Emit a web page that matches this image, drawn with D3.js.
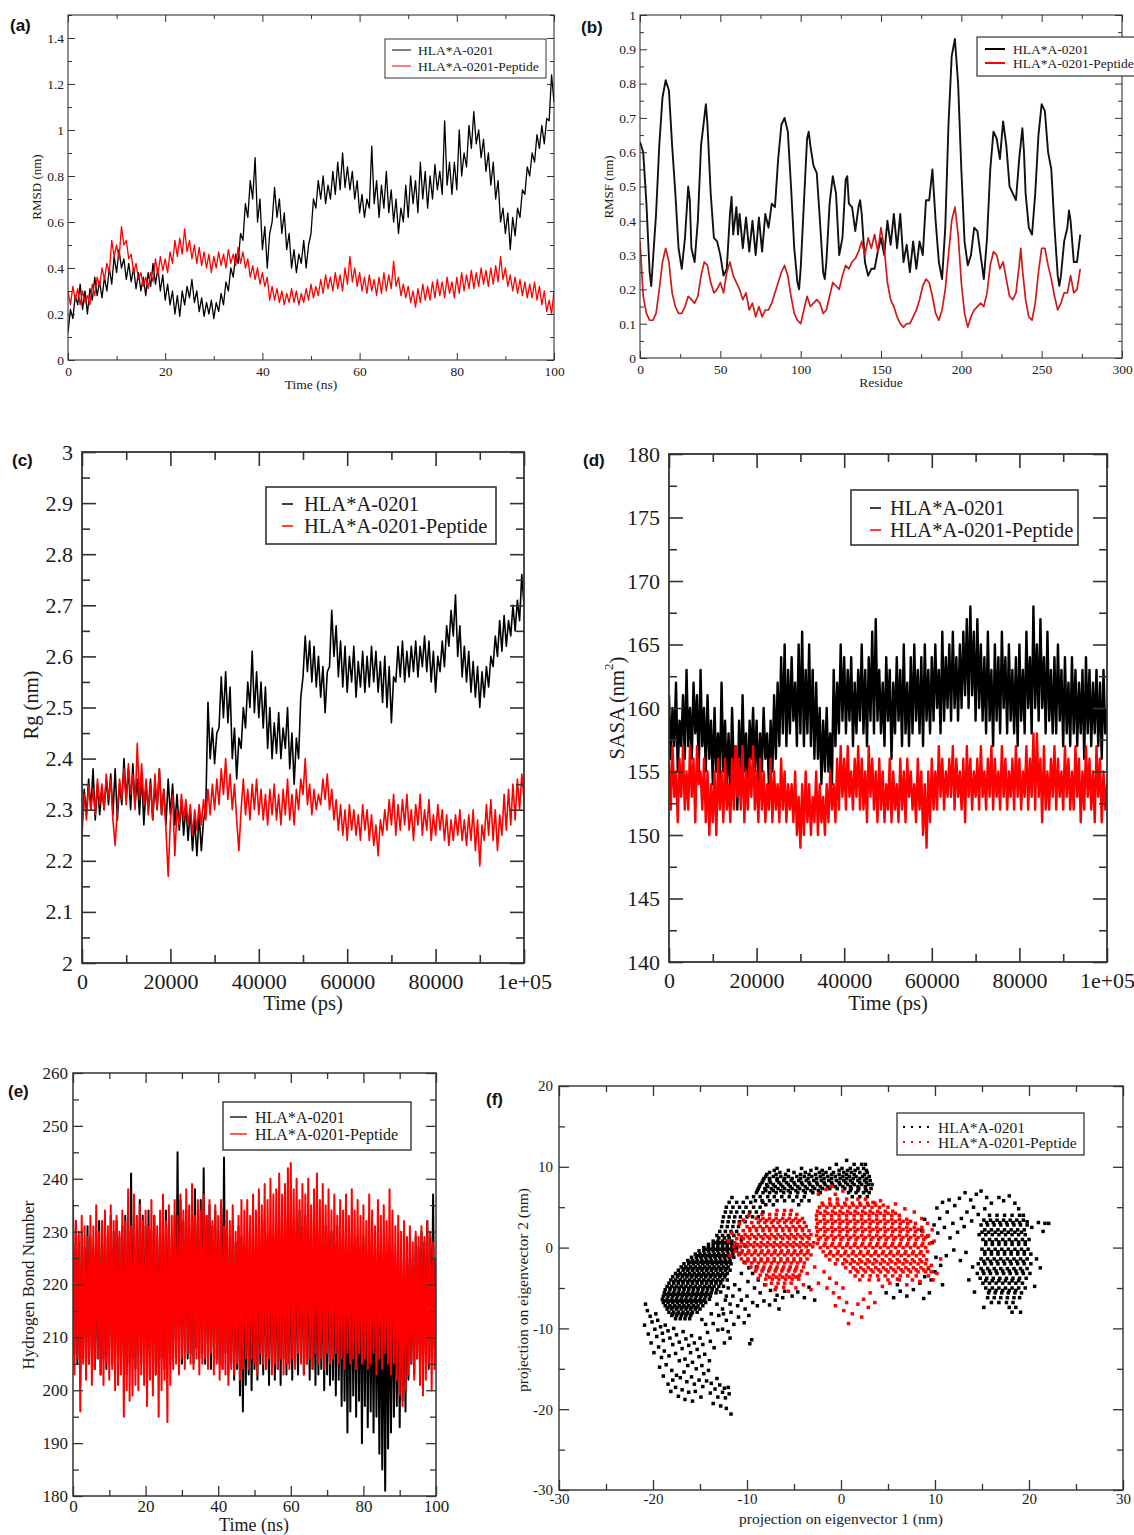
<!DOCTYPE html>
<html>
<head>
<meta charset="utf-8">
<script src="https://cdn.jsdelivr.net/npm/d3@7"></script>
<style>
  html, body { margin: 0; padding: 0; background: #fff; }
  svg { display: block; }
</style>
</head>
<body>
<svg id="figure" width="1134" height="1535"></svg>
<script>
const legendLabels = ["HLA*A-0201", "HLA*A-0201-Peptide"];
const apoColor = "#000000";
const complexColor = "#ff0000";

// (a) RMSD, one stored sample every 0.5 ns
const rmsdStep = 0.5;
const rmsdApo = [
  0.12,0.22,0.18,0.28,0.24,0.33,0.22,0.30,0.20,0.31,
  0.26,0.36,0.28,0.34,0.27,0.36,0.30,0.40,0.33,0.45,
  0.38,0.48,0.40,0.44,0.35,0.42,0.34,0.40,0.31,0.38,
  0.30,0.36,0.28,0.38,0.32,0.42,0.33,0.40,0.30,0.37,
  0.26,0.33,0.24,0.30,0.20,0.28,0.19,0.30,0.24,0.32,
  0.27,0.35,0.25,0.30,0.21,0.27,0.19,0.25,0.20,0.26,
  0.18,0.25,0.21,0.29,0.24,0.34,0.30,0.40,0.36,0.46,
  0.42,0.55,0.52,0.68,0.62,0.78,0.70,0.88,0.60,0.70,
  0.48,0.58,0.40,0.55,0.60,0.75,0.62,0.70,0.55,0.64,
  0.48,0.55,0.40,0.48,0.38,0.46,0.42,0.52,0.40,0.50,
  0.55,0.70,0.66,0.78,0.70,0.80,0.68,0.76,0.70,0.82,
  0.72,0.86,0.74,0.90,0.75,0.84,0.74,0.82,0.70,0.78,
  0.64,0.72,0.62,0.70,0.66,0.93,0.68,0.78,0.62,0.76,
  0.66,0.82,0.64,0.74,0.60,0.70,0.55,0.66,0.60,0.76,
  0.62,0.80,0.68,0.78,0.64,0.86,0.70,0.82,0.66,0.80,
  0.70,0.85,0.74,0.82,0.72,1.04,0.76,0.86,0.72,0.86,
  0.74,1.00,0.80,0.90,0.84,1.02,0.92,1.08,0.94,1.00,
  0.88,0.96,0.82,0.90,0.76,0.86,0.70,0.78,0.60,0.66,
  0.55,0.64,0.48,0.62,0.54,0.66,0.62,0.74,0.72,0.84,
  0.80,0.90,0.86,0.98,0.92,1.02,0.94,1.05,1.04,1.24,
  1.12
];
const rmsdComplex = [
  0.30,0.24,0.32,0.26,0.31,0.24,0.30,0.25,0.28,0.24,
  0.33,0.28,0.36,0.32,0.40,0.35,0.42,0.38,0.52,0.45,
  0.50,0.44,0.58,0.50,0.52,0.44,0.46,0.38,0.42,0.35,
  0.38,0.32,0.36,0.31,0.38,0.34,0.44,0.37,0.45,0.39,
  0.44,0.38,0.47,0.42,0.52,0.45,0.53,0.46,0.57,0.47,
  0.52,0.44,0.50,0.42,0.49,0.41,0.47,0.40,0.46,0.38,
  0.45,0.40,0.47,0.41,0.46,0.40,0.48,0.42,0.46,0.41,
  0.49,0.42,0.47,0.40,0.44,0.36,0.41,0.35,0.40,0.33,
  0.38,0.32,0.36,0.26,0.32,0.26,0.31,0.25,0.30,0.24,
  0.29,0.25,0.31,0.25,0.30,0.24,0.29,0.25,0.31,0.26,
  0.33,0.27,0.32,0.28,0.35,0.29,0.37,0.31,0.36,0.30,
  0.38,0.31,0.37,0.30,0.40,0.33,0.45,0.34,0.40,0.32,
  0.38,0.30,0.36,0.29,0.37,0.30,0.35,0.28,0.36,0.29,
  0.38,0.30,0.37,0.31,0.43,0.32,0.36,0.28,0.33,0.27,
  0.32,0.25,0.30,0.23,0.31,0.25,0.33,0.26,0.32,0.26,
  0.34,0.27,0.35,0.28,0.34,0.27,0.36,0.29,0.34,0.27,
  0.36,0.29,0.38,0.30,0.37,0.31,0.39,0.31,0.38,0.32,
  0.40,0.33,0.39,0.32,0.40,0.33,0.41,0.34,0.45,0.35,
  0.40,0.32,0.37,0.30,0.36,0.29,0.35,0.28,0.34,0.27,
  0.33,0.27,0.34,0.26,0.32,0.24,0.30,0.21,0.26,0.20,
  0.30
];
const rmsdXTicks = [0, 20, 40, 60, 80, 100];
const rmsdXMinor = [10, 30, 50, 70, 90];
const rmsdYTicks = [0, 0.2, 0.4, 0.6, 0.8, 1, 1.2, 1.4];
const rmsdYMinor = [0.1, 0.3, 0.5, 0.7, 0.9, 1.1, 1.3, 1.5];

// (b) RMSF per residue, [residue, nm]
const rmsfApo = [
  [0,.63],[2,.60],[4,.45],[6,.25],[7,.21],[8,.28],[10,.42],[12,.62],[14,.76],[16,.81],[18,.78],[20,.62],
  [22,.48],[24,.32],[26,.26],[28,.35],[30,.50],[31,.46],[32,.32],[34,.28],[36,.40],[38,.62],[40,.70],
  [41,.74],[42,.68],[44,.48],[46,.35],[48,.34],[50,.30],[52,.24],[54,.26],[56,.42],[57,.47],[58,.36],
  [60,.44],[61,.36],[62,.42],[64,.32],[66,.41],[68,.31],[70,.40],[72,.30],[74,.41],[76,.31],[78,.42],
  [80,.38],[82,.45],[84,.44],[86,.58],[88,.68],[90,.70],[92,.66],[94,.50],[96,.32],[98,.22],[99,.20],
  [100,.26],[102,.45],[104,.64],[105,.66],[106,.62],[108,.56],[110,.54],[112,.40],[114,.25],[115,.23],
  [116,.28],[118,.45],[120,.53],[122,.48],[124,.30],[126,.35],[128,.52],[129,.53],[130,.45],[132,.44],
  [134,.37],[136,.44],[137,.46],[138,.42],[140,.28],[142,.24],[144,.26],[146,.26],[148,.31],[150,.35],
  [152,.30],[154,.40],[156,.33],[158,.42],[160,.32],[162,.42],[164,.28],[166,.33],[168,.25],[170,.34],
  [172,.26],[174,.34],[176,.30],[178,.46],[180,.46],[182,.55],[184,.40],[186,.28],[188,.23],[190,.38],
  [192,.68],[194,.88],[196,.93],[198,.80],[200,.55],[202,.34],[204,.27],[206,.30],[208,.38],[210,.37],
  [212,.30],[214,.23],[216,.35],[218,.55],[220,.66],[222,.64],[224,.58],[226,.69],[228,.62],[230,.50],
  [232,.48],[234,.46],[236,.58],[238,.67],[239,.60],[240,.48],[242,.38],[244,.36],[246,.48],[248,.65],
  [250,.74],[252,.72],[254,.60],[256,.55],[258,.38],[260,.24],[261,.21],[262,.24],[264,.34],[266,.38],
  [267,.43],[268,.40],[270,.28],[272,.28],[274,.36]
];
const rmsfComplex = [
  [0,.34],[2,.18],[4,.13],[6,.11],[8,.11],[10,.13],[12,.20],[14,.28],[16,.32],[18,.28],[20,.19],
  [22,.15],[24,.13],[26,.13],[28,.15],[30,.18],[32,.17],[34,.16],[36,.18],[38,.24],[40,.28],[42,.27],
  [44,.22],[46,.19],[48,.20],[50,.22],[52,.19],[54,.25],[56,.28],[58,.24],[60,.22],[62,.20],[64,.17],
  [66,.19],[68,.14],[70,.16],[72,.12],[74,.15],[76,.12],[78,.14],[80,.14],[82,.16],[84,.19],[86,.22],
  [88,.25],[90,.27],[92,.24],[94,.18],[96,.13],[98,.11],[100,.10],[102,.14],[104,.18],[106,.15],
  [108,.16],[110,.17],[112,.16],[114,.13],[116,.14],[118,.18],[120,.22],[122,.21],[124,.20],[126,.24],
  [128,.27],[130,.26],[132,.28],[134,.29],[136,.31],[138,.34],[140,.30],[142,.35],[144,.32],[146,.36],
  [148,.31],[150,.38],[152,.32],[154,.22],[156,.17],[158,.15],[160,.12],[162,.10],[164,.09],[166,.10],
  [168,.10],[170,.12],[172,.14],[174,.17],[176,.21],[178,.23],[180,.22],[182,.18],[184,.13],[186,.11],
  [188,.14],[190,.20],[192,.30],[194,.40],[196,.44],[198,.36],[200,.22],[202,.13],[204,.09],[206,.12],
  [208,.14],[210,.15],[212,.16],[214,.15],[216,.19],[218,.27],[220,.31],[222,.30],[224,.26],[226,.28],
  [228,.23],[230,.18],[232,.17],[234,.19],[236,.27],[237,.32],[238,.26],[240,.17],[242,.12],[244,.11],
  [246,.16],[248,.25],[250,.32],[252,.32],[254,.27],[256,.23],[258,.18],[260,.14],[262,.16],[264,.19],
  [266,.19],[268,.24],[270,.19],[272,.20],[274,.26]
];
const rmsfXTicks = [0, 50, 100, 150, 200, 250, 300];
const rmsfXMinor = [25, 75, 125, 175, 225, 275];
const rmsfYTicks = [0, 0.1, 0.2, 0.3, 0.4, 0.5, 0.6, 0.7, 0.8, 0.9, 1];
const rmsfYMinor = [0.05, 0.15, 0.25, 0.35, 0.45, 0.55, 0.65, 0.75, 0.85, 0.95];

// (c) Rg, one stored sample every 500 ps
const rgStep = 500;
const rgApo = [
  2.27,2.34,2.29,2.36,2.30,2.38,2.28,2.35,2.29,2.34,
  2.30,2.36,2.31,2.37,2.29,2.38,2.28,2.35,2.31,2.40,
  2.32,2.38,2.30,2.39,2.31,2.36,2.29,2.37,2.27,2.35,
  2.30,2.36,2.28,2.35,2.30,2.38,2.29,2.34,2.27,2.36,
  2.29,2.35,2.27,2.33,2.26,2.32,2.25,2.31,2.24,2.30,
  2.22,2.28,2.21,2.29,2.22,2.28,2.30,2.51,2.40,2.46,
  2.39,2.45,2.46,2.56,2.48,2.57,2.47,2.54,2.40,2.46,
  2.36,2.44,2.42,2.50,2.46,2.55,2.50,2.61,2.49,2.57,
  2.48,2.55,2.46,2.54,2.42,2.50,2.40,2.47,2.41,2.49,
  2.40,2.46,2.42,2.50,2.38,2.45,2.35,2.44,2.40,2.52,
  2.56,2.64,2.57,2.63,2.55,2.62,2.54,2.60,2.52,2.58,
  2.49,2.57,2.58,2.69,2.60,2.66,2.56,2.63,2.54,2.62,
  2.53,2.60,2.55,2.62,2.52,2.59,2.54,2.61,2.53,2.60,
  2.54,2.62,2.55,2.61,2.53,2.59,2.51,2.60,2.50,2.58,
  2.47,2.56,2.55,2.62,2.56,2.63,2.55,2.61,2.56,2.62,
  2.57,2.63,2.56,2.62,2.58,2.64,2.57,2.63,2.55,2.61,
  2.53,2.60,2.57,2.63,2.58,2.66,2.62,2.69,2.64,2.72,
  2.60,2.66,2.56,2.62,2.55,2.61,2.53,2.59,2.52,2.58,
  2.50,2.57,2.52,2.58,2.54,2.60,2.58,2.64,2.60,2.67,
  2.61,2.68,2.62,2.67,2.64,2.70,2.65,2.71,2.67,2.76,
  2.70
];
const rgComplex = [
  2.25,2.33,2.28,2.35,2.30,2.34,2.29,2.36,2.31,2.35,
  2.30,2.37,2.32,2.36,2.28,2.23,2.30,2.36,2.32,2.38,
  2.31,2.39,2.33,2.37,2.30,2.43,2.32,2.39,2.31,2.36,
  2.29,2.35,2.28,2.37,2.30,2.38,2.29,2.34,2.26,2.17,
  2.28,2.33,2.21,2.30,2.27,2.33,2.28,2.32,2.27,2.31,
  2.25,2.30,2.26,2.31,2.27,2.32,2.28,2.34,2.29,2.35,
  2.30,2.36,2.31,2.38,2.33,2.40,2.32,2.37,2.30,2.35,
  2.28,2.22,2.30,2.36,2.29,2.34,2.28,2.35,2.30,2.36,
  2.29,2.34,2.28,2.33,2.27,2.34,2.29,2.35,2.28,2.33,
  2.27,2.34,2.29,2.36,2.28,2.33,2.27,2.34,2.30,2.36,
  2.33,2.40,2.31,2.35,2.29,2.34,2.30,2.33,2.31,2.36,
  2.32,2.37,2.30,2.34,2.28,2.32,2.26,2.31,2.25,2.30,
  2.24,2.31,2.26,2.30,2.25,2.29,2.24,2.31,2.26,2.30,
  2.24,2.29,2.23,2.27,2.21,2.28,2.25,2.30,2.26,2.32,
  2.27,2.33,2.25,2.31,2.26,2.32,2.27,2.33,2.26,2.30,
  2.24,2.31,2.27,2.33,2.25,2.30,2.26,2.32,2.24,2.29,
  2.25,2.31,2.26,2.30,2.24,2.29,2.23,2.28,2.24,2.29,
  2.25,2.30,2.24,2.28,2.23,2.29,2.24,2.30,2.22,2.28,
  2.19,2.27,2.24,2.31,2.25,2.32,2.24,2.30,2.22,2.29,
  2.25,2.33,2.26,2.34,2.27,2.35,2.28,2.36,2.30,2.37,
  2.32
];
const psXTicks = [0, 20000, 40000, 60000, 80000, 100000];
const psXLabels = ["0", "20000", "40000", "60000", "80000", "1e+05"];
const psXMinor = [10000, 30000, 50000, 70000, 90000];
const rgYTicks = [2, 2.1, 2.2, 2.3, 2.4, 2.5, 2.6, 2.7, 2.8, 2.9, 3];
const rgYMinor = [2.05, 2.15, 2.25, 2.35, 2.45, 2.55, 2.65, 2.75, 2.85, 2.95];

// (d) SASA, one stored sample every 400 ps
const sasaStep = 400;
const sasaApo = [
  161,156,160,157,162,155,159,157,161,156, 163,157,160,156,162,158,161,155,163,157,
  160,155,161,156,159,154,160,155,158,154, 162,155,159,154,158,153,160,155,157,152,
  159,154,161,155,158,153,159,156,160,155, 159,154,158,155,160,156,158,154,159,155,
  161,156,162,157,164,158,165,157,163,158, 164,159,162,157,165,158,166,157,163,158,
  165,157,163,156,162,156,160,154,159,155, 160,155,158,154,163,157,162,158,165,159,
  164,158,163,159,164,157,162,158,163,159, 165,158,163,157,164,159,166,158,167,159,
  163,158,162,157,164,159,163,156,162,158, 164,159,163,157,165,158,162,157,164,158,
  165,159,163,158,164,157,165,159,163,158, 164,159,165,160,163,158,166,159,164,160,
  165,159,166,160,164,159,165,160,166,161, 167,160,168,161,166,159,167,160,165,159,
  164,158,166,159,163,157,165,159,164,158, 166,160,164,158,165,159,163,158,164,157,
  165,159,163,158,166,160,164,158,168,160, 165,159,167,160,164,158,166,159,163,158,
  164,158,165,159,163,157,164,158,162,157, 164,158,163,157,162,158,163,156,164,158,
  163,157,162,158,163,157,162,156,163,158,
  160
];
const sasaComplex = [
  156,152,157,153,155,151,156,153,157,152, 155,152,157,153,156,151,157,154,155,152,
  156,151,155,150,154,151,155,150,156,152, 155,151,156,152,154,151,156,152,157,153,
  156,152,157,151,155,152,156,153,157,152, 155,151,156,152,155,151,154,152,156,151,
  155,152,154,151,156,152,155,151,154,152, 154,151,155,150,153,149,154,150,155,151,
  154,150,153,151,155,150,154,151,153,150, 154,151,155,152,154,151,156,152,157,153,
  156,152,157,153,155,152,156,153,157,152, 156,152,155,151,157,153,156,152,155,151,
  156,152,155,151,154,152,156,151,155,152, 154,151,156,152,155,151,156,153,155,152,
  154,151,156,152,155,150,154,149,155,151, 156,152,155,152,157,153,156,152,155,153,
  156,153,157,152,156,153,155,152,156,151, 157,153,156,152,155,153,156,152,157,153,
  155,152,156,153,157,152,156,153,155,152, 157,153,156,152,155,153,156,152,157,153,
  156,152,155,153,157,152,156,153,158,152, 158,153,156,151,157,152,155,152,156,153,
  157,152,156,153,155,152,157,153,156,152, 155,152,157,153,156,151,155,152,157,153,
  156,152,155,151,157,153,156,151,155,152,
  154
];
const sasaYTicks = [140, 145, 150, 155, 160, 165, 170, 175, 180];
const sasaYMinor = [142.5, 147.5, 152.5, 157.5, 162.5, 167.5, 172.5, 177.5];

// (e) hydrogen bonds, one stored sample every 0.4 ns
const hbondStep = 0.4;
const hbondApo = [
  229,207,232,205,228,201,230,206,227,208, 231,205,229,207,227,204,230,206,232,203,
  228,206,231,204,229,208,233,205,230,207, 232,206,229,204,231,207,233,203,230,205,
  241,206,232,204,230,207,236,205,233,208, 231,206,234,204,230,207,233,203,229,205,
  232,206,230,204,234,207,231,205,229,206, 233,207,245,209,236,205,232,208,234,206,
  231,207,235,205,238,208,232,206,236,207, 242,205,233,207,235,204,231,208,234,206,
  230,205,235,204,244,207,231,203,229,205, 232,202,228,204,231,199,229,196,227,201,
  230,203,226,200,229,204,227,202,231,205, 228,203,232,204,229,201,230,205,228,202,
  231,204,229,201,232,206,230,203,233,205, 229,202,232,205,230,203,234,206,231,203,
  233,205,230,202,232,204,229,201,231,203, 230,204,228,200,231,203,229,201,230,202,
  228,199,231,202,229,197,230,198,228,192, 227,196,230,199,226,195,229,198,227,190,
  229,197,226,193,228,196,225,192,227,195, 224,188,226,185,223,181,225,189,222,192,
  226,195,224,197,227,193,225,198,223,196, 226,202,228,205,225,203,229,206,227,204,
  230,205,228,207,232,204,229,206,237,208,
  222
];
const hbondComplex = [
  236,203,232,206,230,196,233,205,231,202, 229,205,233,201,231,204,235,206,230,203,
  232,201,234,205,231,202,235,204,232,200, 233,201,230,203,234,195,232,200,238,198,
  231,199,237,201,233,200,235,203,232,201, 234,197,231,202,236,199,233,203,231,195,
  234,200,237,202,232,194,235,201,233,204, 236,205,233,203,237,206,234,204,238,207,
  235,205,239,204,233,206,236,203,234,205, 237,206,233,204,236,207,232,203,235,205,
  233,202,236,204,231,203,234,201,232,204, 235,203,230,205,233,202,236,204,234,206,
  236,204,233,206,237,205,234,203,238,207, 235,205,239,204,236,206,240,203,237,205,
  238,204,241,206,237,203,239,205,242,204, 243,206,238,204,240,207,236,205,239,203,
  237,205,240,206,235,204,238,207,241,205, 236,206,239,204,235,207,238,205,234,206,
  237,207,233,205,236,206,234,204,237,207, 233,205,238,206,234,204,236,207,233,205,
  235,206,232,204,237,205,234,207,231,203, 236,206,233,204,235,207,232,205,238,203,
  234,205,231,202,233,199,230,197,232,200, 229,203,231,205,228,202,230,206,229,201,
  231,199,229,202,232,205,230,200,228,204,
  225
];
const nsXTicks = [0, 20, 40, 60, 80, 100];
const nsXMinor = [10, 30, 50, 70, 90];
const hbondYTicks = [180, 190, 200, 210, 220, 230, 240, 250, 260];
const hbondYMinor = [185, 195, 205, 215, 225, 235, 245, 255];

// (f) PCA projections: dense rows [ev2, [ev1 ...]] plus loose [ev1, ev2] points
const pcaApoRows = [
  [1.2,[-13.0,-12.4,-11.9]],
  [0.8,[-13.6,-13.1,-12.6,-12.1,-11.6]],
  [0.6,[-13.4,-12.9,-12.4,-11.9,-11.4]],
  [0.4,[-14.1,-13.6,-13.1,-12.6,-12.1,-11.6,-11.1]],
  [0.0,[-14.6,-14.1,-13.6,-13.1,-12.6,-12.1,-11.6,-11.1]],
  [-0.2,[-14.4,-13.9,-13.4,-12.9,-12.4,-11.9,-11.4]],
  [-0.4,[-15.1,-14.6,-14.1,-13.6,-13.1,-12.6,-12.1,-11.6,-11.1]],
  [-0.8,[-15.5,-15.0,-14.5,-14.0,-13.5,-13.0,-12.5,-12.0,-11.5]],
  [-1.0,[-15.2,-14.7,-14.2,-13.7,-13.2,-12.7,-12.2,-11.7]],
  [-1.2,[-15.9,-15.4,-14.9,-14.4,-13.9,-13.4,-12.9,-12.4,-11.9,-11.4]],
  [-1.6,[-16.3,-15.8,-15.3,-14.8,-14.3,-13.8,-13.3,-12.8,-12.3,-11.8]],
  [-1.8,[-16.0,-15.5,-15.0,-14.5,-14.0,-13.5,-13.0,-12.5,-12.0]],
  [-2.0,[-16.7,-16.2,-15.7,-15.2,-14.7,-14.2,-13.7,-13.2,-12.7,-12.2,-11.7]],
  [-2.4,[-17.0,-16.5,-16.0,-15.5,-15.0,-14.5,-14.0,-13.5,-13.0,-12.5,-12.0]],
  [-2.6,[-16.7,-16.2,-15.7,-15.2,-14.7,-14.2,-13.7,-13.2,-12.7,-12.2]],
  [-2.8,[-17.3,-16.8,-16.3,-15.8,-15.3,-14.8,-14.3,-13.8,-13.3,-12.8,-12.3,-11.8]],
  [-3.2,[-17.6,-17.1,-16.6,-16.1,-15.6,-15.1,-14.6,-14.1,-13.6,-13.1,-12.6,-12.1]],
  [-3.4,[-17.3,-16.8,-16.3,-15.8,-15.3,-14.8,-14.3,-13.8,-13.3,-12.8,-12.3]],
  [-3.6,[-17.9,-17.4,-16.9,-16.4,-15.9,-15.4,-14.9,-14.4,-13.9,-13.4,-12.9,-12.4]],
  [-4.0,[-18.1,-17.6,-17.1,-16.6,-16.1,-15.6,-15.1,-14.6,-14.1,-13.6,-13.1,-12.6,-12.1]],
  [-4.2,[-17.8,-17.3,-16.8,-16.3,-15.8,-15.3,-14.8,-14.3,-13.8,-13.3,-12.8]],
  [-4.4,[-18.3,-17.8,-17.3,-16.8,-16.3,-15.8,-15.3,-14.8,-14.3,-13.8,-13.3,-12.8]],
  [-4.8,[-18.5,-18.0,-17.5,-17.0,-16.5,-16.0,-15.5,-15.0,-14.5,-14.0,-13.5,-13.0,-12.5]],
  [-5.0,[-18.2,-17.7,-17.2,-16.7,-16.2,-15.7,-15.2,-14.7,-14.2,-13.7]],
  [-5.2,[-18.7,-18.2,-17.7,-17.2,-16.7,-16.2,-15.7,-15.2,-14.7,-14.2,-13.7,-13.2]],
  [-5.6,[-18.8,-18.3,-17.8,-17.3,-16.8,-16.3,-15.8,-15.3,-14.8,-14.3,-13.8,-13.3]],
  [-5.8,[-18.6,-18.1,-17.6,-17.1,-16.6,-16.1,-15.6,-15.1,-14.6,-14.1]],
  [-6.0,[-18.9,-18.4,-17.9,-17.4,-16.9,-16.4,-15.9,-15.4,-14.9,-14.4,-13.9]],
  [-6.4,[-19.0,-18.5,-18.0,-17.5,-17.0,-16.5,-16.0,-15.5,-15.0,-14.5,-14.0]],
  [-6.6,[-18.7,-18.2,-17.7,-17.2,-16.7,-16.2,-15.7,-15.2,-14.7]],
  [-6.8,[-18.9,-18.4,-17.9,-17.4,-16.9,-16.4,-15.9,-15.4,-14.9,-14.4]],
  [-7.2,[-18.7,-18.2,-17.7,-17.2,-16.7,-16.2,-15.7,-15.2,-14.7]],
  [-7.4,[-18.4,-17.9,-17.4,-16.9,-16.4,-15.9,-15.4]],
  [-7.6,[-18.5,-18.0,-17.5,-17.0,-16.5,-16.0,-15.5,-15.0]],
  [-8.0,[-18.3,-17.8,-17.3,-16.8,-16.3,-15.8,-15.3]],
  [-8.2,[-17.9,-17.4,-16.9,-16.4,-15.9]],
  [-8.4,[-18.0,-17.5,-17.0,-16.5,-16.0]],
  [-8.8,[-17.6,-17.1,-16.6,-16.1]],
  // upper arc
  [10.8,[0.6]],
  [10.3,[-0.5,1.4,2.2,2.6]],
  [9.8,[-6.8,-4.2,-2.6,-1.2,0.1,1.0,1.8,2.4]],
  [9.55,[-7.1,-5.6,-3.2,-2.0,-0.2,0.7,1.5,2.7]],
  [9.3,[-7.6,-6.5,-5.0,-3.8,-2.3,-1.6,-0.8,0.3,1.1,2.0,2.8]],
  [9.05,[-7.9,-6.9,-5.9,-4.3,-3.4,-2.7,-1.9,-1.0,-0.2,0.6,1.4,2.5]],
  [8.8,[-8.0,-7.2,-6.4,-5.6,-4.7,-3.9,-3.1,-2.2,-1.4,-0.6,0.2,0.9,1.6,2.3,3.0]],
  [8.55,[-8.2,-7.6,-6.8,-6.0,-5.2,-4.3,-3.5,-2.6,-1.8,-1.0,-0.1,0.6,1.3,2.0,2.7]],
  [8.3,[-8.3,-7.6,-6.8,-6.1,-5.3,-4.5,-3.7,-2.9,-2.1,-1.3,-0.5,0.3,1.0,1.8,2.5,3.1]],
  [8.05,[-8.4,-7.5,-6.6,-5.8,-5.0,-4.2,-3.4,-2.6,-1.8,-1.0,-0.2,0.5,1.2,2.0,2.7]],
  [7.8,[-8.6,-7.9,-7.2,-6.4,-5.6,-4.9,-4.1,-3.3,-2.5,-1.7,-0.9,-0.1,0.7,1.4,2.2,2.9,3.3]],
  [7.55,[-8.7,-7.8,-7.0,-6.2,-5.4,-4.6,-3.8,-3.0,-2.2,-1.4,-0.6,0.2,1.0,1.8,2.6]],
  [7.3,[-8.8,-8.1,-7.4,-6.7,-6.0,-5.2,-4.4,-3.6,-2.8,-2.0,-1.2,-0.4,0.4,1.1,1.9,2.6,3.2]],
  [7.05,[-8.9,-8.0,-7.2,-6.4,-5.6,-4.8,-4.0,-3.2,-2.4,1.0,1.8,2.7]],
  [6.8,[-9.0,-8.3,-7.6,-6.9,-6.1,-5.4,-4.6,-3.8,-3.0,-2.2,0.8,1.6,2.4,3.0]],
  [6.3,[-9.3,-8.6,-7.8,-7.1,-6.3,-5.5,-4.7,-3.9,1.2,2.0,2.8]],
  [6.2,[-11.6,-10.0]],
  [5.8,[-9.1,-8.4,-7.6,-6.8,-6.0,-5.1,-4.2,-3.4]],
  [5.6,[-11.9,-11.1,-10.4,-9.6,-8.3]],
  [5.3,[-8.0,-7.2,-4.5]],
  [5.0,[-12.2,-11.5,-10.8,-10.1,-9.3,-8.6]],
  [4.4,[-12.3,-11.7,-11.1,-10.4,-9.7,-9.0,-8.3]],
  [3.8,[-12.5,-11.9,-11.3,-10.7,-10.0,-9.4,-8.8]],
  [3.2,[-12.6,-12.0,-11.4,-10.8,-10.2]],
  [2.6,[-12.7,-12.1,-11.5,-10.9]],
  [2.0,[-12.9,-12.3,-11.7,-11.1]],
  [1.5,[-13.2,-12.6,-12.0,-11.4]],
  // right cluster
  [4.0,[15.8,16.6,17.4,18.2,19.0]],
  [3.4,[15.2,15.9,16.6,17.3,18.0,18.7,19.4]],
  [3.1,[15.5,16.2,16.9,17.6,18.3,19.0]],
  [2.8,[14.9,15.6,16.3,17.0,17.7,18.4,19.1,19.8]],
  [2.2,[15.3,16.0,16.7,17.4,18.1,18.8,19.5]],
  [1.9,[15.0,15.7,16.4,17.1,17.8,18.5,19.2]],
  [1.6,[14.7,15.4,16.1,16.8,17.5,18.2,18.9,19.6]],
  [1.0,[15.1,15.8,16.5,17.2,17.9,18.6,19.3,20.0]],
  [0.7,[15.4,16.1,16.8,17.5,18.2,18.9,19.6]],
  [0.4,[15.4,16.1,16.8,17.5,18.2,18.9,19.6]],
  [-0.2,[15.0,15.7,16.4,17.1,17.8,18.5,19.2,19.9]],
  [-0.5,[15.3,16.0,16.7,17.4,18.1,18.8,19.5]],
  [-0.8,[15.3,16.0,16.7,17.4,18.1,18.8,19.5,20.2]],
  [-1.4,[14.9,15.6,16.3,17.0,17.7,18.4,19.1,19.8]],
  [-1.7,[15.2,15.9,16.6,17.3,18.0,18.7,19.4]],
  [-2.0,[14.6,15.3,16.0,16.7,17.4,18.1,18.8,19.5,20.2]],
  [-2.6,[14.9,15.6,16.3,17.0,17.7,18.4,19.1,19.8]],
  [-2.9,[15.1,15.8,16.5,17.2,17.9,18.6,19.3]],
  [-3.2,[14.5,15.2,15.9,16.6,17.3,18.0,18.7,19.4,20.1]],
  [-3.8,[14.8,15.5,16.2,16.9,17.6,18.3,19.0,19.7]],
  [-4.1,[15.4,16.1,16.8,17.5,18.2,18.9]],
  [-4.4,[15.1,15.8,16.5,17.2,17.9,18.6,19.3]],
  [-5.0,[15.4,16.1,16.8,17.5,18.2,18.9,19.6]],
  [-5.3,[15.8,16.5,17.2,17.9,18.6]],
  [-5.6,[15.7,16.4,17.1,17.8,18.5,19.2]],
  [-6.2,[15.6,16.3,17.0,17.7,18.4,19.0]],
  [-6.8,[16.0,16.8,17.6,18.3]],
  [-7.4,[15.2,17.9,18.6]],
  [-8.0,[18.2,19.1]]
];
const pcaApoLoose = [
  [-20.8,-7.0],[-20.6,-7.8],[-20.3,-8.5],[-20.9,-9.6],[-20.1,-9.2],[-19.7,-8.2],[-19.5,-9.0],[-19.8,-10.1],
  [-19.2,-9.8],[-19.6,-11.0],[-19.0,-10.6],[-18.7,-9.6],[-18.4,-10.3],[-18.9,-11.5],[-18.2,-11.2],[-17.8,-10.0],
  [-17.5,-10.8],[-17.9,-12.0],[-17.2,-11.7],[-16.8,-10.4],[-16.5,-11.3],[-16.9,-12.5],[-16.2,-12.1],[-15.9,-10.9],
  [-15.6,-11.8],[-16.0,-13.0],[-15.3,-12.6],[-15.0,-11.2],[-14.7,-12.0],[-15.1,-13.5],[-14.5,-13.2],[-14.2,-10.5],
  [-13.9,-11.6],[-14.0,-14.0],[-13.5,-12.4],[-19.4,-12.3],[-18.8,-12.8],[-18.3,-13.4],[-19.1,-13.6],[-17.6,-13.1],
  [-17.2,-14.0],[-16.6,-13.8],[-16.3,-14.6],[-15.8,-14.2],[-15.4,-15.0],[-14.8,-14.6],[-14.6,-15.6],[-14.1,-15.2],
  [-18.6,-14.5],[-18.0,-15.2],[-17.5,-15.8],[-17.9,-16.4],[-17.1,-16.1],[-16.7,-15.4],[-16.4,-16.6],[-15.9,-16.0],
  [-15.6,-16.9],[-15.1,-16.4],[-14.7,-17.2],[-14.3,-16.5],[-18.4,-16.9],[-17.6,-17.3],[-16.9,-17.6],[-16.2,-17.9],
  [-15.5,-17.8],[-17.3,-18.4],[-16.6,-18.8],[-18.1,-17.8],[-13.8,-16.8],[-13.4,-17.5],[-12.9,-17.0],[-12.6,-17.9],
  [-13.1,-18.5],[-12.3,-18.6],[-13.6,-19.3],[-12.8,-19.6],[-12.2,-19.9],[-11.7,-20.6],[-12.4,-17.4],[-13.2,-16.2],
  [-19.9,-13.0],[-20.2,-11.8],[-20.5,-10.7],[-19.3,-14.8],[-18.9,-15.9],[-14.9,-18.5],[-15.8,-19.0],[-12.0,-17.3],
  [-11.9,-18.1],[-13.9,-18.0],
  [-11.3,-4.6],[-10.8,-5.2],[-11.5,-6.0],[-10.6,-6.5],[-11.0,-7.2],[-10.2,-7.6],[-11.7,-8.0],[-10.9,-8.6],
  [-12.2,-9.0],[-11.4,-9.5],[-12.0,-10.4],[-12.6,-10.1],[-11.8,-11.2],[-12.4,-11.8],[-10.3,-9.3],[-9.8,-8.4],
  [-9.5,-11.4],[-9.7,-11.9],[-10.0,-6.0],[-9.4,-6.8],[-8.9,-7.2],[-8.2,-6.6],[-7.6,-7.1],[-7.0,-6.5],
  [-6.6,-7.6],[-6.2,-6.2],[-8.6,-5.6],[-9.2,-5.0],[-13.2,-7.0],[-12.6,-7.6],[-13.0,-8.4],[-12.3,-6.5],
  [-13.6,-9.4],[-13.1,-10.2],[-14.4,-9.5],[-14.8,-8.9],[-13.8,-8.2],[-12.8,-5.5],[-12.0,-5.0],[-12.2,-6.0],
  [-11.8,-7.0],[-12.5,-8.2],
  [-10.6,1.0],[-10.2,0.2],[-10.8,-0.8],[-10.3,-1.8],[-9.8,-2.5],[-10.6,-3.2],[-9.9,-4.2],
  [-9.4,-3.2],[-8.8,-4.0],[-8.1,-4.6],[-7.5,-5.3],[-6.8,-5.9],[-6.0,-5.4],[-5.2,-6.0],[-4.6,-5.5],
  [-3.9,-6.2],[-9.0,-2.4],[4.8,-5.6],[5.6,-6.2],[6.3,-5.4],[7.0,-6.0],[7.7,-5.2],[8.4,-4.4],
  [8.9,-3.6],[9.3,-2.6],[6.0,-4.6],[-2.8,-6.5],[-3.4,-4.9],
  [10.2,4.9],[10.8,5.6],[11.5,5.9],[12.1,5.2],[11.3,4.4],[10.5,3.6],[12.6,6.1],[13.2,6.8],
  [13.8,5.9],[14.4,6.6],[14.9,7.0],[15.5,6.2],[14.1,5.0],[13.4,4.4],[12.8,3.6],[11.9,3.0],
  [11.0,2.5],[10.3,1.8],[11.6,1.2],[12.4,1.9],[13.1,2.6],[13.9,3.3],[14.6,4.1],[15.3,4.8],
  [16.0,5.5],[16.8,6.2],[17.3,5.8],[17.9,6.4],[18.5,5.5],[18.9,4.8],[19.4,4.0],[19.8,3.2],
  [20.3,2.5],[21.0,3.1],[21.7,3.0],[12.0,-0.3],[11.2,-1.0],[12.7,-1.6],[13.3,-0.6],[10.6,-2.2],
  [10.0,-3.0],[9.6,-4.0],[10.8,-4.6],[9.4,-5.6],[8.8,-6.3],[10.1,-1.2],[9.7,0.6],[9.2,1.4],
  [8.6,2.1],[9.9,2.8],[8.9,3.5],[20.8,-1.4],[21.2,-2.5],[20.6,-4.8],[14.0,-2.4],[13.6,-4.0],
  [14.2,-5.5],[21.5,2.0],[22.1,3.0]
];
const pcaComplexRows = [
  [4.6,[-6.8,-6.0,-5.3]],
  [4.1,[-8.4,-7.6,-6.9,-6.1,-5.4,-4.7]],
  [3.6,[-9.0,-8.3,-7.6,-6.9,-6.2,-5.5,-4.8,-4.1]],
  [3.35,[-8.6,-7.9,-7.2,-6.5,-5.8,-5.1,-4.4]],
  [3.1,[-9.5,-8.8,-8.1,-7.4,-6.7,-6.0,-5.3,-4.6,-3.9]],
  [2.6,[-10.0,-9.3,-8.6,-7.9,-7.2,-6.5,-5.8,-5.1,-4.4,-3.7]],
  [2.35,[-9.7,-9.0,-8.3,-7.6,-6.9,-6.2,-5.5,-4.8,-4.1]],
  [2.1,[-10.4,-9.7,-9.0,-8.3,-7.6,-6.9,-6.2,-5.5,-4.8,-4.1,-3.4]],
  [1.6,[-10.9,-10.2,-9.5,-8.8,-8.1,-7.4,-6.7,-6.0,-5.3,-4.6,-3.9,-3.2]],
  [1.35,[-10.6,-9.9,-9.2,-8.5,-7.8,-7.1,-6.4,-5.7,-5.0,-4.3,-3.6]],
  [1.1,[-11.1,-10.4,-9.7,-9.0,-8.3,-7.6,-6.9,-6.2,-5.5,-4.8,-4.1,-3.4]],
  [0.6,[-11.3,-10.6,-9.9,-9.2,-8.5,-7.8,-7.1,-6.4,-5.7,-5.0,-4.3,-3.6,-2.9]],
  [0.35,[-11.0,-10.3,-9.6,-8.9,-8.2,-7.5,-6.8,-6.1,-5.4,-4.7,-4.0,-3.3]],
  [0.1,[-11.4,-10.7,-10.0,-9.3,-8.6,-7.9,-7.2,-6.5,-5.8,-5.1,-4.4,-3.7,-3.0]],
  [-0.4,[-11.2,-10.5,-9.8,-9.1,-8.4,-7.7,-7.0,-6.3,-5.6,-4.9,-4.2,-3.5]],
  [-0.65,[-10.6,-9.9,-9.2,-8.5,-7.8,-7.1,-6.4,-5.7,-5.0,-4.3,-3.6]],
  [-0.9,[-10.9,-10.2,-9.5,-8.8,-8.1,-7.4,-6.7,-6.0,-5.3,-4.6,-3.9,-3.2]],
  [-1.4,[-10.6,-9.9,-9.2,-8.5,-7.8,-7.1,-6.4,-5.7,-5.0,-4.3,-3.6]],
  [-1.65,[-9.9,-9.2,-8.5,-7.8,-7.1,-6.4,-5.7,-5.0,-4.3]],
  [-1.9,[-10.2,-9.5,-8.8,-8.1,-7.4,-6.7,-6.0,-5.3,-4.6,-3.9]],
  [-2.4,[-9.6,-8.9,-8.2,-7.5,-6.8,-6.1,-5.4,-4.7,-4.0]],
  [-2.65,[-9.0,-8.3,-7.6,-6.9,-6.2,-5.5,-4.8]],
  [-2.9,[-9.1,-8.4,-7.7,-7.0,-6.3,-5.6,-4.9,-4.2]],
  [-3.4,[-8.6,-7.9,-7.2,-6.5,-5.8,-5.1,-4.4]],
  [-3.65,[-7.6,-6.9,-6.2,-5.5,-4.8]],
  [-3.9,[-8.0,-7.3,-6.6,-5.9,-5.2,-4.5]],
  [-4.4,[-7.4,-6.7,-6.0,-5.3]],
  [-4.9,[-6.9,-6.1]],
  // central blob
  [6.0,[-1.2,-0.4,0.6,1.8,2.6]],
  [5.5,[-2.0,-1.2,-0.4,0.4,1.2,2.0,2.8,3.6]],
  [5.25,[-1.9,-1.1,-0.3,0.5,1.3,2.1,2.9,3.7,4.5]],
  [5.0,[-2.3,-1.5,-0.7,0.1,0.9,1.7,2.5,3.3,4.1,5.0]],
  [4.5,[-2.5,-1.7,-0.9,-0.1,0.7,1.5,2.3,3.1,3.9,4.7,5.5]],
  [4.25,[-2.2,-1.4,-0.6,0.2,1.0,1.8,2.6,3.4,4.2,5.0,5.8]],
  [4.0,[-2.6,-1.8,-1.0,-0.2,0.6,1.4,2.2,3.0,3.8,4.6,5.4,6.2]],
  [3.5,[-2.6,-1.8,-1.0,-0.2,0.6,1.4,2.2,3.0,3.8,4.6,5.4,6.2,7.0]],
  [3.25,[-2.2,-1.4,-0.6,0.2,1.0,1.8,2.6,3.4,4.2,5.0,5.8,6.6,7.4]],
  [3.0,[-2.5,-1.7,-0.9,-0.1,0.7,1.5,2.3,3.1,3.9,4.7,5.5,6.3,7.1,7.9]],
  [2.5,[-2.6,-1.8,-1.0,-0.2,0.6,1.4,2.2,3.0,3.8,4.6,5.4,6.2,7.0,7.8,8.6]],
  [2.25,[-2.2,-1.4,-0.6,0.2,1.0,1.8,2.6,3.4,4.2,5.0,5.8,6.6,7.4,8.2]],
  [2.0,[-2.5,-1.7,-0.9,-0.1,0.7,1.5,2.3,3.1,3.9,4.7,5.5,6.3,7.1,7.9,8.7]],
  [1.5,[-2.6,-1.8,-1.0,-0.2,0.6,1.4,2.2,3.0,3.8,4.6,5.4,6.2,7.0,7.8,8.6,9.3]],
  [1.25,[-2.2,-1.4,-0.6,0.2,1.0,1.8,2.6,3.4,4.2,5.0,5.8,6.6,7.4,8.2,9.0]],
  [1.0,[-2.4,-1.6,-0.8,0.0,0.8,1.6,2.4,3.2,4.0,4.8,5.6,6.4,7.2,8.0,8.8]],
  [0.5,[-2.5,-1.7,-0.9,-0.1,0.7,1.5,2.3,3.1,3.9,4.7,5.5,6.3,7.1,7.9,8.7,9.4]],
  [0.25,[-1.8,-1.0,-0.2,0.6,1.4,2.2,3.0,3.8,4.6,5.4,6.2,7.0,7.8,8.6]],
  [0.0,[-2.2,-1.4,-0.6,0.2,1.0,1.8,2.6,3.4,4.2,5.0,5.8,6.6,7.4,8.2,9.0]],
  [-0.5,[-1.9,-1.1,-0.3,0.5,1.3,2.1,2.9,3.7,4.5,5.3,6.1,6.9,7.7,8.5,9.2]],
  [-0.75,[-1.2,-0.4,0.4,1.2,2.0,2.8,3.6,4.4,5.2,6.0,6.8,7.6,8.4]],
  [-1.0,[-1.6,-0.8,0.0,0.8,1.6,2.4,3.2,4.0,4.8,5.6,6.4,7.2,8.0,8.8]],
  [-1.5,[-1.2,-0.4,0.4,1.2,2.0,2.8,3.6,4.4,5.2,6.0,6.8,7.6,8.4,9.1]],
  [-1.75,[0.6,1.4,2.2,3.0,3.8,4.6,5.4,6.2,7.0,7.8,8.6]],
  [-2.0,[-0.6,0.2,1.0,1.8,2.6,3.4,4.2,5.0,5.8,6.6,7.4,8.2,9.0]],
  [-2.5,[0.5,1.3,2.1,2.9,3.7,4.5,5.3,6.1,6.9,7.7,8.5,9.3]],
  [-2.75,[1.6,2.4,3.2,4.0,4.8,5.6,6.4,7.2,8.0,8.8]],
  [-3.0,[1.0,1.8,2.6,3.4,4.2,5.0,5.8,6.6,7.4,8.2,9.0,9.6]],
  [-3.5,[1.5,2.3,3.1,3.9,4.7,5.5,6.3,7.1,8.0,9.3]],
  [-4.0,[2.0,3.0,4.0,5.0,6.2,7.6,9.8]]
];
const pcaComplexLoose = [
  [-1.8,-3.0],[-1.2,-3.8],[-0.5,-4.4],[-1.5,-5.0],[-0.8,-5.6],[0.2,-5.0],[-0.2,-6.2],[0.6,-6.8],
  [-0.6,-7.2],[0.3,-7.8],[0.8,-9.4],[1.2,-8.2],[1.8,-7.0],[2.4,-6.4],[2.9,-7.4],[2.2,-8.6],
  [3.1,-5.6],[3.6,-6.8],[-2.4,-4.4],[-3.2,-5.2],[-4.0,-4.6],[-4.6,-3.6],[-3.6,-3.2],[-2.8,-2.4],
  [4.4,-4.8],[5.2,-4.4],[6.0,-3.9],[7.0,-4.6],[8.4,-4.2],[9.6,-2.2],[10.2,-3.2],[10.6,-1.4],
  [9.9,0.8],[9.7,2.2],[9.2,3.0],[8.6,3.6],[7.8,4.4],[6.8,4.8],[5.8,5.4],[4.2,5.8],
  [3.4,5.6],[-0.6,6.6],[-1.6,7.2],[-2.4,6.6],[0.2,7.0],[-1.0,7.6],[-10.8,3.0],[-11.6,1.8],
  [-12.0,0.8],[-11.8,-1.0],[-9.8,4.0],[-10.4,3.4],[-8.0,-4.6],[-8.8,-3.8],[-7.0,-5.2],[-5.6,-5.4],
  [-4.8,-5.0]
];
const evTicks = [-30, -20, -10, 0, 10, 20, 30];
const evMinor = [-25, -15, -5, 5, 15, 25];
const ev2Ticks = [-30, -20, -10, 0, 10, 20];
const ev2Minor = [-25, -15, -5, 5, 15];

// ---------------------------------------------------------------------------
const SERIF = '"Liberation Serif", "Times New Roman", Times, serif';
const SANS = '"Liberation Sans", Arial, Helvetica, sans-serif';
const FRAME = "#333";

const svg = d3.select("#figure");
svg.append("rect").attr("width", 1134).attr("height", 1535).attr("fill", "#fff");
const defs = svg.append("defs");

function makePanel(cfg) {
  const w = cfg.right - cfg.left;
  const h = cfg.bottom - cfg.top;
  const x = d3.scaleLinear().domain(cfg.xDomain).range([0, w]);
  const y = d3.scaleLinear().domain(cfg.yDomain).range([h, 0]);
  const g = svg.append("g").attr("transform", `translate(${cfg.left},${cfg.top})`);

  defs.append("clipPath").attr("id", `clip-${cfg.id}`)
    .append("rect").attr("width", w).attr("height", h);

  const plot = g.append("g").attr("clip-path", `url(#clip-${cfg.id})`);

  const style = (sel) => {
    sel.select(".domain").remove();
    sel.selectAll("line").attr("stroke", FRAME).attr("stroke-width", cfg.tickWidth);
    sel.selectAll("text")
      .attr("font-family", SERIF)
      .attr("font-size", cfg.tickFont)
      .attr("fill", "#1a1a1a");
  };
  const labelsFrom = (labels) => (d, i) => labels ? labels[i] : String(d);

  const axes = g.append("g");
  axes.append("g").attr("transform", `translate(0,${h})`)
    .call(d3.axisBottom(x).tickValues(cfg.xTicks).tickSize(-cfg.major)
      .tickPadding(cfg.xPad).tickFormat(labelsFrom(cfg.xLabels)))
    .call(style);
  axes.append("g").attr("transform", `translate(0,${h})`)
    .call(d3.axisBottom(x).tickValues(cfg.xMinor).tickSize(-cfg.minor).tickFormat(""))
    .call(style);
  axes.append("g")
    .call(d3.axisTop(x).tickValues(cfg.xTicks).tickSize(-cfg.major).tickFormat(""))
    .call(style);
  axes.append("g")
    .call(d3.axisTop(x).tickValues(cfg.xMinor).tickSize(-cfg.minor).tickFormat(""))
    .call(style);
  axes.append("g")
    .call(d3.axisLeft(y).tickValues(cfg.yTicks).tickSize(-cfg.major)
      .tickPadding(cfg.yPad).tickFormat(labelsFrom(cfg.yLabels)))
    .call(style);
  axes.append("g")
    .call(d3.axisLeft(y).tickValues(cfg.yMinor).tickSize(-cfg.minor).tickFormat(""))
    .call(style);
  axes.append("g").attr("transform", `translate(${w},0)`)
    .call(d3.axisRight(y).tickValues(cfg.yTicks).tickSize(-cfg.major).tickFormat(""))
    .call(style);
  axes.append("g").attr("transform", `translate(${w},0)`)
    .call(d3.axisRight(y).tickValues(cfg.yMinor).tickSize(-cfg.minor).tickFormat(""))
    .call(style);

  const frame = g.append("rect")
    .attr("width", w).attr("height", h)
    .attr("fill", "none").attr("stroke", FRAME).attr("stroke-width", cfg.frameWidth);

  return { g, plot, x, y, frame };
}

function drawLine(panel, points, color, width) {
  const line = d3.line().x((d) => panel.x(d[0])).y((d) => panel.y(d[1]));
  panel.plot.append("path")
    .datum(points)
    .attr("d", line)
    .attr("fill", "none")
    .attr("stroke", color)
    .attr("stroke-width", width)
    .attr("stroke-linejoin", "round");
}

function sampled(values, step) {
  return values.map((v, i) => [i * step, v]);
}

function drawLegend(spec) {
  const lg = svg.append("g");
  lg.append("rect")
    .attr("x", spec.x).attr("y", spec.y).attr("width", spec.w).attr("height", spec.h)
    .attr("fill", "#fff").attr("stroke", FRAME).attr("stroke-width", spec.stroke);
  [apoColor, complexColor].forEach((color, i) => {
    const cy = spec.rows[i];
    if (spec.dotted) {
      [0, 1, 2, 3].forEach((k) => {
        lg.append("rect")
          .attr("x", spec.lineX0 + k * (spec.lineX1 - spec.lineX0) / 3 - 1)
          .attr("y", cy - 1).attr("width", 2).attr("height", 2)
          .attr("fill", color);
      });
    } else {
      lg.append("line")
        .attr("x1", spec.lineX0).attr("x2", spec.lineX1)
        .attr("y1", cy).attr("y2", cy)
        .attr("stroke", color).attr("stroke-width", spec.lineWidth);
    }
    lg.append("text")
      .attr("x", spec.textX).attr("y", cy)
      .attr("dominant-baseline", "central")
      .attr("font-family", SERIF).attr("font-size", spec.font)
      .attr("fill", "#1a1a1a")
      .text(legendLabels[i]);
  });
}

function axisTitle(text, x, y, size, rotate) {
  const t = svg.append("text")
    .attr("x", x).attr("y", y)
    .attr("text-anchor", "middle")
    .attr("font-family", SERIF).attr("font-size", size)
    .attr("fill", "#1a1a1a");
  if (rotate) t.attr("transform", `rotate(-90,${x},${y})`).attr("dominant-baseline", "central");
  t.text(text);
  return t;
}

function panelTag(text, x, y) {
  svg.append("text")
    .attr("x", x).attr("y", y)
    .attr("font-family", SANS).attr("font-weight", "bold").attr("font-size", 17)
    .attr("fill", "#111")
    .text(text);
}

// (a) RMSD
const pa = makePanel({
  id: "a", left: 68, right: 554, top: 15, bottom: 360,
  xDomain: [0, 100], yDomain: [0, 1.5],
  xTicks: rmsdXTicks, xMinor: rmsdXMinor, yTicks: rmsdYTicks, yMinor: rmsdYMinor,
  major: 7, minor: 4, tickWidth: 1, frameWidth: 1.1, tickFont: 13.5, xPad: 6, yPad: 4
});
drawLine(pa, sampled(rmsdApo, rmsdStep), apoColor, 1.3);
drawLine(pa, sampled(rmsdComplex, rmsdStep), complexColor, 1.3);
pa.frame.raise();
drawLegend({ x: 385, y: 39, w: 161, h: 39, rows: [50, 66], lineX0: 392, lineX1: 411,
  textX: 418, font: 13.5, stroke: 1, lineWidth: 1 });
axisTitle("Time (ns)", 311, 389, 13.5);
axisTitle("RMSD (nm)", 36, 187, 13, true);
panelTag("(a)", 10, 31);

// (b) RMSF
const pb = makePanel({
  id: "b", left: 640, right: 1122, top: 15, bottom: 358,
  xDomain: [0, 300], yDomain: [0, 1],
  xTicks: rmsfXTicks, xMinor: rmsfXMinor, yTicks: rmsfYTicks, yMinor: rmsfYMinor,
  major: 7, minor: 4, tickWidth: 1, frameWidth: 1.1, tickFont: 13.5, xPad: 6, yPad: 4
});
drawLine(pb, rmsfApo, "#111", 1.9);
drawLine(pb, rmsfComplex, "#d01a1a", 1.7);
pb.frame.raise();
drawLegend({ x: 977, y: 37, w: 170, h: 39, rows: [49, 63], lineX0: 985, lineX1: 1005,
  textX: 1013, font: 13.5, stroke: 1.2, lineWidth: 2 });
axisTitle("Residue", 881, 387, 13.5);
axisTitle("RMSF (nm)", 608, 187, 13, true);
panelTag("(b)", 581, 33);

// (c) Rg
const pc = makePanel({
  id: "c", left: 82, right: 524, top: 452, bottom: 963,
  xDomain: [0, 100000], yDomain: [2, 3],
  xTicks: psXTicks, xLabels: psXLabels, xMinor: psXMinor, yTicks: rgYTicks, yMinor: rgYMinor,
  major: 14, minor: 8, tickWidth: 1.6, frameWidth: 1.8, tickFont: 22, xPad: 10, yPad: 9
});
drawLine(pc, sampled(rgApo, rgStep), apoColor, 1.6);
drawLine(pc, sampled(rgComplex, rgStep), complexColor, 1.6);
pc.frame.raise();
drawLegend({ x: 266, y: 487, w: 230, h: 57, rows: [504, 526], lineX0: 282, lineX1: 293,
  textX: 304, font: 20.5, stroke: 1.6, lineWidth: 1.5 });
axisTitle("Time (ps)", 303, 1010, 20.5);
axisTitle("Rg (nm)", 31, 705, 20.5, true);
panelTag("(c)", 12, 466);

// (d) SASA
const pd = makePanel({
  id: "d", left: 669, right: 1107, top: 454, bottom: 962,
  xDomain: [0, 100000], yDomain: [140, 180],
  xTicks: psXTicks, xLabels: psXLabels, xMinor: psXMinor, yTicks: sasaYTicks, yMinor: sasaYMinor,
  major: 14, minor: 8, tickWidth: 1.6, frameWidth: 1.8, tickFont: 22, xPad: 10, yPad: 9
});
drawLine(pd, sampled(sasaApo, sasaStep), apoColor, 2.4);
drawLine(pd, sampled(sasaComplex, sasaStep), complexColor, 2.4);
pd.frame.raise();
drawLegend({ x: 851, y: 490, w: 227, h: 55, rows: [508, 530], lineX0: 870, lineX1: 881,
  textX: 890, font: 20.5, stroke: 1.6, lineWidth: 1.5 });
axisTitle("Time (ps)", 888, 1010, 20.5);
const sasaTitle = axisTitle("", 617, 708, 20.5, true);
sasaTitle.append("tspan").text("SASA (nm");
sasaTitle.append("tspan").attr("dy", -9).attr("font-size", 13).text("2");
sasaTitle.append("tspan").attr("dy", 9).text(")");
panelTag("(d)", 583, 466);

// (e) hydrogen bonds
const pe = makePanel({
  id: "e", left: 73, right: 436, top: 1073, bottom: 1496,
  xDomain: [0, 100], yDomain: [180, 260],
  xTicks: nsXTicks, xMinor: nsXMinor, yTicks: hbondYTicks, yMinor: hbondYMinor,
  major: 10, minor: 6, tickWidth: 1.3, frameWidth: 1.5, tickFont: 17, xPad: 4, yPad: 5
});
drawLine(pe, sampled(hbondApo, hbondStep), apoColor, 2);
drawLine(pe, sampled(hbondComplex, hbondStep), complexColor, 2);
pe.frame.raise();
drawLegend({ x: 223, y: 1102, w: 188, h: 48, rows: [1117, 1134], lineX0: 230, lineX1: 247,
  textX: 255, font: 16, stroke: 1.4, lineWidth: 1.3 });
axisTitle("Time (ns)", 254, 1531, 18);
axisTitle("Hydrogen Bond Number", 28, 1285, 17, true);
panelTag("(e)", 8, 1097);

// (f) PCA projection
const pf = makePanel({
  id: "f", left: 559, right: 1123, top: 1086, bottom: 1490,
  xDomain: [-30, 30], yDomain: [-30, 20],
  xTicks: evTicks, xMinor: evMinor, yTicks: ev2Ticks, yMinor: ev2Minor,
  major: 10, minor: 6, tickWidth: 1.3, frameWidth: 1.4, tickFont: 15, xPad: 3, yPad: 6
});
const rowsToPoints = (rows) => rows.flatMap(([ev2, xs]) => xs.map((ev1) => [ev1, ev2]));
const dotSize = 3.5;
[[rowsToPoints(pcaApoRows).concat(pcaApoLoose), apoColor],
 [rowsToPoints(pcaComplexRows).concat(pcaComplexLoose), complexColor]].forEach(([pts, color]) => {
  pf.plot.append("g").selectAll("rect")
    .data(pts)
    .join("rect")
    .attr("x", (d) => pf.x(d[0]) - dotSize / 2)
    .attr("y", (d) => pf.y(d[1]) - dotSize / 2)
    .attr("width", dotSize)
    .attr("height", dotSize)
    .attr("fill", color);
});
pf.frame.raise();
drawLegend({ x: 897, y: 1113, w: 187, h: 42, rows: [1127, 1142], lineX0: 904, lineX1: 928,
  textX: 938, font: 15.5, stroke: 1.3, dotted: true });
axisTitle("projection on eigenvector 1 (nm)", 841, 1524, 15.5);
axisTitle("projection on eigenvector 2 (nm)", 522, 1290, 15.5, true);
panelTag("(f)", 486, 1105);
</script>
</body>
</html>
